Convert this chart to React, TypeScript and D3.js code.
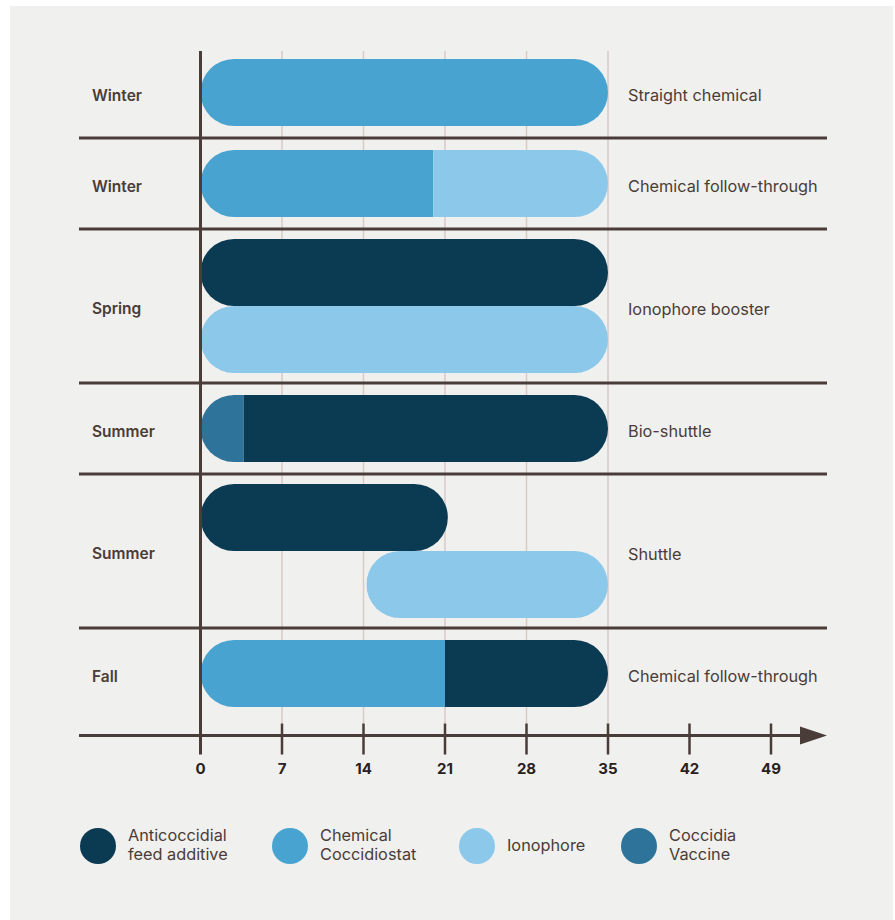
import React from "react";
import * as d3 from "d3";

const rowLabels = ["Winter", "Winter", "Spring", "Summer", "Summer", "Fall"];
const programLabels = [
  "Straight chemical",
  "Chemical follow-through",
  "Ionophore booster",
  "Bio-shuttle",
  "Shuttle",
  "Chemical follow-through",
];
const rowLanes = [1, 1, 2, 1, 2, 1];

// segments: row index, lane index, start day, end day, type
const segRow = [0, 1, 1, 2, 2, 3, 3, 4, 4, 5, 5];
const segLane = [0, 0, 0, 0, 1, 0, 0, 0, 1, 0, 0];
const segStart = [0, 0, 20, 0, 0, 0, 3.7, 0, 14.25, 0, 21];
const segEnd = [35, 20, 35, 35, 35, 3.7, 35, 21.25, 35, 21, 35];
const segType = [
  "Chemical Coccidiostat",
  "Chemical Coccidiostat",
  "Ionophore",
  "Anticoccidial feed additive",
  "Ionophore",
  "Coccidia Vaccine",
  "Anticoccidial feed additive",
  "Anticoccidial feed additive",
  "Ionophore",
  "Chemical Coccidiostat",
  "Anticoccidial feed additive",
];

const legendKeys = [
  "Anticoccidial feed additive",
  "Chemical Coccidiostat",
  "Ionophore",
  "Coccidia Vaccine",
];
const legendLines = [
  ["Anticoccidial", "feed additive"],
  ["Chemical", "Coccidiostat"],
  ["Ionophore"],
  ["Coccidia", "Vaccine"],
];
const legendColors = ["#0b3a53", "#48a3d0", "#8bc8ea", "#2e7399"];
const tickValues = [0, 7, 14, 21, 28, 35, 42, 49];
const gridValues = [7, 14, 21, 28, 35];

const W = 895;
const H = 920;
const LINE = "#4a3c38";
const GRID = "#d9cac6";
const FONT = "Inter, 'Noto Sans', sans-serif";

export default function App() {
  const x = d3.scaleLinear().domain([0, 35]).range([200.5, 608]);
  const color = d3.scaleOrdinal<string, string>().domain(legendKeys).range(legendColors);

  const laneH = 67;
  const top = 47;
  const rows: { y0: number; y1: number; pad: number }[] = [];
  let cur = top;
  rowLanes.forEach((n) => {
    const pad = n === 1 ? 12 : 10;
    const h = n * laneH + pad * 2;
    rows.push({ y0: cur, y1: cur + h, pad });
    cur += h;
  });
  const axisY = 735.5;
  const axisTop = 51;
  const lineLeft = 79;
  const lineRight = 827;

  const lanes: { key: string; row: number; lane: number; s: number; e: number }[] = [];
  segRow.forEach((r, i) => {
    const key = r + "-" + segLane[i];
    let l = lanes.find((d) => d.key === key);
    if (!l) {
      l = { key, row: r, lane: segLane[i], s: segStart[i], e: segEnd[i] };
      lanes.push(l);
    } else {
      l.s = Math.min(l.s, segStart[i]);
      l.e = Math.max(l.e, segEnd[i]);
    }
  });
  const laneY = (r: number, lane: number) => rows[r].y0 + rows[r].pad + lane * laneH;

  const legendX = d3.scaleOrdinal<string, number>().domain(legendKeys).range([98, 290, 477, 639]);
  const legendY = 846;

  return (
    <svg
      width={W}
      height={H}
      style={{ position: "absolute", left: 0, top: 0, display: "block" }}
      fontFamily={FONT}
    >
      <rect x={0} y={0} width={W} height={H} fill="#ffffff" />
      <rect x={10} y={6} width={883} height={H - 6} fill="#f0f0ee" />
      <defs>
        {lanes.map((l) => (
          <clipPath id={"clip" + l.key} key={l.key}>
            <rect
              x={x(l.s)}
              y={laneY(l.row, l.lane)}
              width={x(l.e) - x(l.s)}
              height={laneH}
              rx={laneH / 2}
              ry={laneH / 2}
            />
          </clipPath>
        ))}
      </defs>
      {gridValues.map((v) => (
        <line key={v} x1={x(v)} x2={x(v)} y1={axisTop} y2={axisY - 12} stroke={GRID} strokeWidth={1.5} />
      ))}
      {segRow.map((r, i) => (
        <rect
          key={i}
          x={x(segStart[i])}
          y={laneY(r, segLane[i])}
          width={x(segEnd[i]) - x(segStart[i])}
          height={laneH}
          fill={color(segType[i])}
          clipPath={`url(#clip${r}-${segLane[i]})`}
        />
      ))}
      {rows.slice(0, -1).map((r, i) => (
        <line key={i} x1={lineLeft} x2={lineRight} y1={r.y1} y2={r.y1} stroke={LINE} strokeWidth={3} />
      ))}
      <line x1={x(0)} x2={x(0)} y1={axisTop} y2={axisY + 19} stroke={LINE} strokeWidth={3} />
      <line x1={lineLeft} x2={802} y1={axisY} y2={axisY} stroke={LINE} strokeWidth={3} />
      <path d={`M800,${axisY - 9}L827,${axisY}L800,${axisY + 9}Z`} fill={LINE} />
      {tickValues.map((v) => {
        const xs = d3.scaleLinear().domain([0, 35]).range([200.5, 608]);
        return (
          <g key={v}>
            {v !== 0 && (
              <line x1={xs(v)} x2={xs(v)} y1={axisY - 12} y2={axisY + 19} stroke={LINE} strokeWidth={2.5} />
            )}
            <text
              x={xs(v)}
              y={axisY + 38}
              textAnchor="middle"
              fontSize={15}
              fontWeight={700}
              fill="#2a2120"
            >
              {v}
            </text>
          </g>
        );
      })}
      {rows.map((r, i) => {
        const cy = (rowLanes[i] === 1 ? laneY(i, 0) + laneH / 2 : (r.y0 + r.y1) / 2) + 3;
        return (
          <g key={i}>
            <text x={92} y={cy} dy="0.35em" fontSize={15.5} fontWeight={600} fill={LINE}>
              {rowLabels[i]}
            </text>
            <text x={628} y={cy} dy="0.35em" fontSize={16.3} fontWeight={400} fill={LINE}>
              {programLabels[i]}
            </text>
          </g>
        );
      })}
      {legendKeys.map((k, i) => (
        <g key={k}>
          <circle cx={legendX(k)} cy={legendY} r={18} fill={color(k)} />
          {legendLines[i].map((t, j) => (
            <text
              key={j}
              x={legendX(k) + 30}
              y={legendY + (j - (legendLines[i].length - 1) / 2) * 19 - 1}
              dy="0.35em"
              fontSize={16.3}
              fill={LINE}
            >
              {t}
            </text>
          ))}
        </g>
      ))}
    </svg>
  );
}
